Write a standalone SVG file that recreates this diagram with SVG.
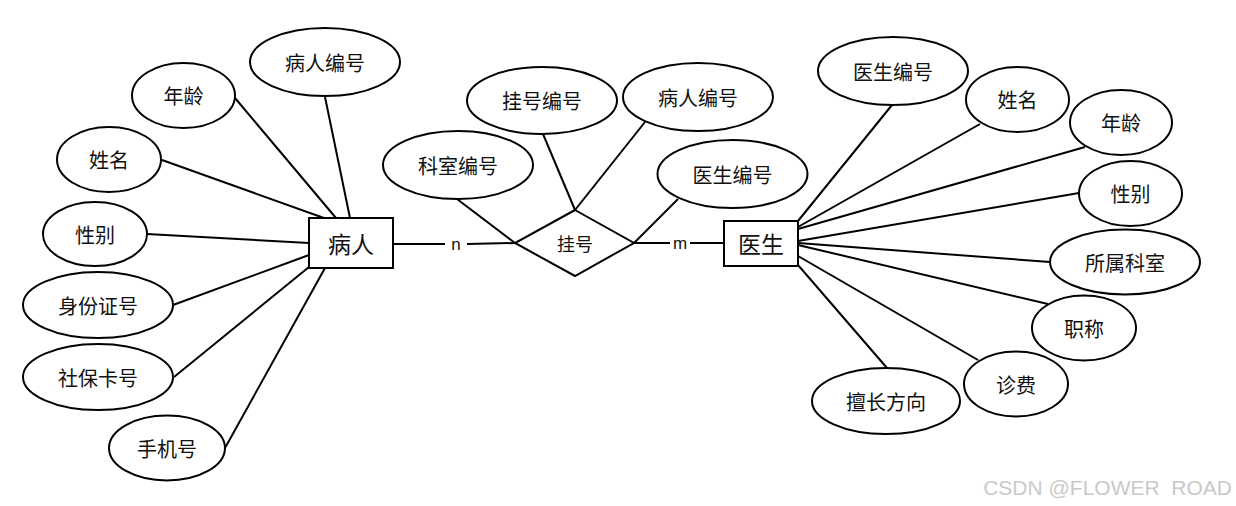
<svg xmlns="http://www.w3.org/2000/svg" width="1236" height="506" viewBox="0 0 1236 506">
<style>
.a{fill:#fff;stroke:#000;stroke-width:2}
.e{fill:#fff;stroke:#000;stroke-width:2}
.t{font-family:"Noto Sans CJK SC","Liberation Sans",sans-serif;font-size:20px;fill:#111;text-anchor:middle;dominant-baseline:central}
.big{font-size:23px}
.mid{font-size:18px}
.lbl{font-family:"Liberation Sans",sans-serif;font-size:17px;fill:#111;text-anchor:middle;dominant-baseline:central}
#connectors line{stroke:#000;stroke-width:2}
</style>
<rect width="1236" height="506" fill="#fff"/>
<g id="connectors">
<line x1="325" y1="97" x2="350" y2="218"/>
<line x1="235" y1="98" x2="336" y2="218"/>
<line x1="162" y1="160" x2="324" y2="218"/>
<line x1="147" y1="234" x2="309" y2="243"/>
<line x1="173" y1="305" x2="309" y2="255"/>
<line x1="174" y1="377" x2="309" y2="267"/>
<line x1="225" y1="448" x2="325" y2="268"/>
<line x1="393" y1="244" x2="445" y2="244"/>
<line x1="467" y1="244" x2="515" y2="243"/>
<line x1="634" y1="243" x2="670" y2="243"/>
<line x1="690" y1="243" x2="724" y2="243"/>
<line x1="543" y1="134" x2="575" y2="210"/>
<line x1="645" y1="122" x2="575" y2="210"/>
<line x1="457" y1="199" x2="515" y2="243"/>
<line x1="678" y1="199" x2="634" y2="243"/>
<line x1="892" y1="105" x2="798" y2="221"/>
<line x1="980" y1="124" x2="798" y2="227"/>
<line x1="1085" y1="147" x2="798" y2="229"/>
<line x1="1079" y1="193" x2="798" y2="241"/>
<line x1="1050" y1="262" x2="798" y2="243"/>
<line x1="1048" y1="304" x2="798" y2="245"/>
<line x1="978" y1="360" x2="798" y2="256"/>
<line x1="887" y1="368" x2="798" y2="265"/>
</g>
<g id="patient"><rect class="a" x="309" y="218" width="84" height="50"/><text class="t big" x="351" y="243">病人</text></g>
<g id="doctor"><rect class="a" x="724" y="221" width="74" height="45"/><text class="t big" x="761" y="243">医生</text></g>
<g id="register"><polygon class="a" points="575,210 634,243 575,276 515,243"/><text class="t mid" x="575" y="243">挂号</text></g>
<g id="label-n"><text class="lbl" x="456" y="244">n</text></g>
<g id="label-m"><text class="lbl" x="680" y="243">m</text></g>
<g id="p-id"><ellipse class="e" cx="325" cy="62" rx="75" ry="34"/><text class="t" x="325" y="62">病人编号</text></g>
<g id="p-age"><ellipse class="e" cx="183.5" cy="95.5" rx="51.5" ry="32.5"/><text class="t" x="183.5" y="95.5">年龄</text></g>
<g id="p-name"><ellipse class="e" cx="109" cy="159.5" rx="52" ry="32.5"/><text class="t" x="109" y="159.5">姓名</text></g>
<g id="p-sex"><ellipse class="e" cx="95" cy="234" rx="52" ry="32"/><text class="t" x="95" y="234">性别</text></g>
<g id="p-card"><ellipse class="e" cx="98" cy="305" rx="75" ry="33"/><text class="t" x="98" y="305">身份证号</text></g>
<g id="p-ins"><ellipse class="e" cx="98" cy="377" rx="75" ry="33"/><text class="t" x="98" y="377">社保卡号</text></g>
<g id="p-phone"><ellipse class="e" cx="167" cy="448" rx="58" ry="32.5"/><text class="t" x="167" y="448">手机号</text></g>
<g id="r-id"><ellipse class="e" cx="542" cy="100.5" rx="75" ry="33.5"/><text class="t" x="542" y="100.5">挂号编号</text></g>
<g id="r-pid"><ellipse class="e" cx="698" cy="97" rx="75" ry="34"/><text class="t" x="698" y="97">病人编号</text></g>
<g id="r-dept"><ellipse class="e" cx="458" cy="165" rx="75" ry="34"/><text class="t" x="458" y="165">科室编号</text></g>
<g id="r-did"><ellipse class="e" cx="732.5" cy="174" rx="75" ry="34"/><text class="t" x="732.5" y="174">医生编号</text></g>
<g id="d-id"><ellipse class="e" cx="893" cy="71" rx="75" ry="34"/><text class="t" x="893" y="71">医生编号</text></g>
<g id="d-name"><ellipse class="e" cx="1017.5" cy="99.5" rx="51.5" ry="32.5"/><text class="t" x="1017.5" y="99.5">姓名</text></g>
<g id="d-age"><ellipse class="e" cx="1121" cy="122.5" rx="51" ry="32.5"/><text class="t" x="1121" y="122.5">年龄</text></g>
<g id="d-sex"><ellipse class="e" cx="1130.5" cy="193.5" rx="51.5" ry="32.5"/><text class="t" x="1130.5" y="193.5">性别</text></g>
<g id="d-dept"><ellipse class="e" cx="1125" cy="262" rx="75" ry="32.5"/><text class="t" x="1125" y="262">所属科室</text></g>
<g id="d-title"><ellipse class="e" cx="1084" cy="328" rx="52" ry="32.5"/><text class="t" x="1084" y="328">职称</text></g>
<g id="d-fee"><ellipse class="e" cx="1016" cy="384" rx="52" ry="32.5"/><text class="t" x="1016" y="384">诊费</text></g>
<g id="d-spec"><ellipse class="e" cx="886" cy="401" rx="74" ry="33"/><text class="t" x="886" y="401">擅长方向</text></g>
<text x="1232" y="495" font-family="Liberation Sans, sans-serif" font-size="21" fill="#c9c9c9" text-anchor="end" xml:space="preserve">CSDN @FLOWER  ROAD</text>
</svg>
